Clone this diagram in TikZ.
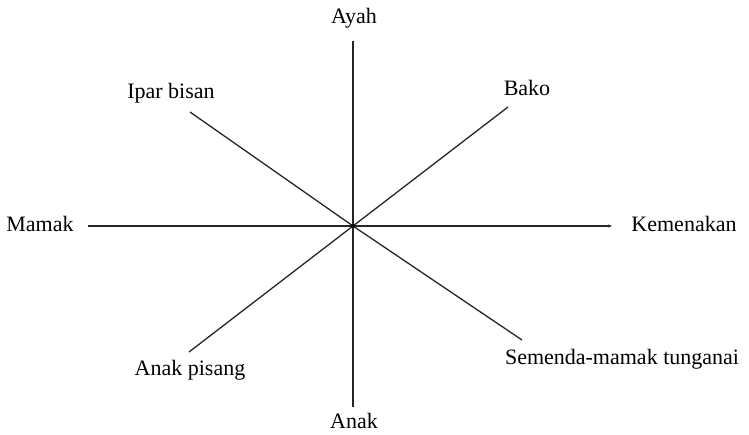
\documentclass[tikz,border=0pt]{standalone}
\usepackage{fontspec}
\setmainfont{Liberation Serif}
\usetikzlibrary{arrows.meta}
\tikzset{
  lbl/.style={font=\fontsize{22}{25}\selectfont, inner sep=0pt, anchor=center},
  ray/.style={line width=1.3pt, black!85}
}
\begin{document}
\begin{tikzpicture}[x=1pt,y=-1pt]
\useasboundingbox (0,0) rectangle (749,434);
% labels
\node[lbl] (ayah) at (354,18) {Ayah};
\node[lbl] (anak) at (354,421) {Anak};
\node[lbl] (mamak) at (40,224) {Mamak};
\node[lbl] (kemenakan) at (684,224) {Kemenakan};
\node[lbl] (ipar) at (171,93) {Ipar bisan};
\node[lbl] (bako) at (527,88) {Bako};
\node[lbl] (anakpisang) at (190,370) {Anak pisang};
\node[lbl] (semenda) at (622,359) {Semenda-mamak tunganai};
% line ends
\coordinate (c) at (353,226);
\coordinate (top) at (353,41);
\coordinate (bot) at (353,407);
\coordinate (left) at (88,226);
\coordinate (right) at (612,226);
\coordinate (nw) at (190,112);
\coordinate (se) at (522,340);
\coordinate (ne) at (508,107);
\coordinate (sw) at (189,352);
% rays
\draw[ray] (top) -- (c) -- (bot);
\draw[ray,-{Stealth[length=4pt,width=3pt]}] (left) -- (c) -- (right);
\draw[ray] (nw) -- (c) -- (se);
\draw[ray] (ne) -- (c) -- (sw);
\fill (c) circle (2pt);
\end{tikzpicture}
\end{document}
